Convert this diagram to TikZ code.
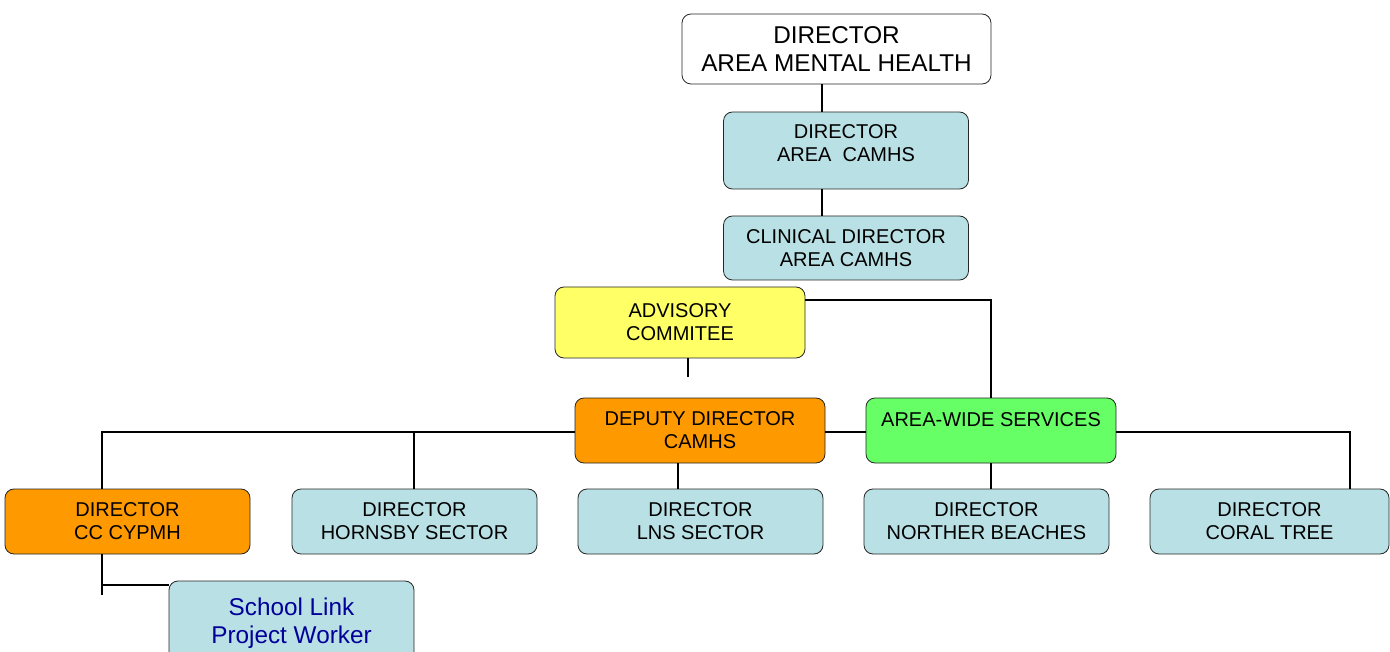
\documentclass[tikz,border=0pt]{standalone}
\usepackage{fontspec}
\setmainfont{Liberation Sans}
\definecolor{boxblue}{RGB}{185,224,228}
\definecolor{boxyellow}{RGB}{255,255,102}
\definecolor{boxorange}{RGB}{255,153,0}
\definecolor{boxgreen}{RGB}{102,255,102}
\definecolor{linkblue}{RGB}{0,0,153}
\begin{document}
\begin{tikzpicture}[x=1pt,y=-1pt,line width=2pt,
  unit node/.style={rectangle,rounded corners=9pt,draw=black!85,line width=0.8pt,fill=boxblue,align=center,minimum width=245pt,minimum height=65pt,inner sep=0pt,font=\fontsize{20}{23}\selectfont},
  big node/.style={unit node,font=\fontsize{24.3}{28}\selectfont}]
  \clip (0,0) rectangle (1390,652);
  \node[big node,fill=white,minimum width=309pt,minimum height=70pt] (amh) at (836.5,49) {DIRECTOR\\AREA MENTAL HEALTH};
  \node[unit node,minimum height=77pt,text depth=14pt] (dcamhs) at (846,150.5) {DIRECTOR\\AREA\ \ CAMHS};
  \node[unit node,minimum height=64pt] (clin) at (846,248) {CLINICAL DIRECTOR\\AREA CAMHS};
  \node[unit node,fill=boxyellow,minimum width=250pt,minimum height=71pt] (adv) at (680,322.5) {ADVISORY\\COMMITEE};
  \node[unit node,fill=boxorange,minimum width=250pt] (dep) at (700,430.5) {DEPUTY DIRECTOR\\CAMHS};
  \node[unit node,fill=boxgreen,minimum width=250pt,text depth=21pt] (aws) at (991,430.5) {AREA-WIDE SERVICES};
  \node[unit node,fill=boxorange] (cc) at (127.5,521.5) {DIRECTOR\\CC CYPMH};
  \node[unit node] (hsec) at (414.5,521.5) {DIRECTOR\\HORNSBY SECTOR};
  \node[unit node] (lns) at (700.5,521.5) {DIRECTOR\\LNS SECTOR};
  \node[unit node] (nb) at (986.5,521.5) {DIRECTOR\\NORTHER BEACHES};
  \node[unit node,minimum width=239pt] (coral) at (1269.5,521.5) {DIRECTOR\\CORAL TREE};
  \node[big node,text=linkblue,minimum height=84pt] (school) at (291.5,623) {School Link\\Project Worker};
  \coordinate (spine) at (822,0);
  \coordinate (bus) at (102,432);
  \coordinate (hornx) at (414,0);
  \coordinate (coralx) at (1350,0);
  \coordinate (sl) at ([yshift=-4pt]school.north west);
  \draw (amh.south -| spine) -- (dcamhs.north -| spine);
  \draw (dcamhs.south -| spine) -- (clin.north -| spine);
  \draw ([yshift=22.5pt]adv.east) -| (aws.north);
  \draw ([xshift=8pt]adv.south) -- ++(0,19);
  \draw (bus |- cc.north) -- (bus) -- (bus -| dep.west);
  \draw (bus -| hornx) -- (hornx |- hsec.north);
  \draw (bus -| dep.east) -- (bus -| aws.west);
  \draw (bus -| aws.east) -| (coralx |- coral.north);
  \draw ([xshift=-22pt]dep.south) -- ([xshift=-22pt]dep.south |- lns.north);
  \draw (aws.south) -- (aws.south |- nb.north);
  \draw (bus |- cc.south) -- ++(0,41);
  \draw (bus |- sl) -- (sl);
\end{tikzpicture}
\end{document}
